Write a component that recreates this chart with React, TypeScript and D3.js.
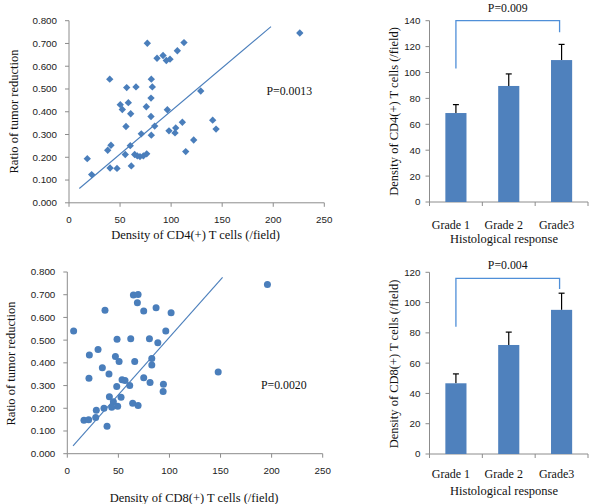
import React from "react";
import * as d3 from "d3";

// ---- Data ----
const cd4Density = [17.9, 22.2, 37.9, 41.1, 40.2, 47, 39.9, 56.5, 65.6, 50.2, 52.2, 58.1, 60.4, 55.8, 60, 55.1, 61, 64.3, 66.9, 69.5, 72.8, 76.1, 70.8, 76.7, 80.6, 81.6, 80.3, 75.7, 80.3, 83.9, 80.6, 86.2, 92.1, 95.3, 98.9, 106.1, 112.6, 96.3, 97.9, 104.5, 103.8, 111, 114.3, 122.1, 129, 140.7, 144, 226];
const cd4Ratio = [0.194, 0.124, 0.231, 0.253, 0.153, 0.151, 0.543, 0.506, 0.509, 0.431, 0.41, 0.44, 0.391, 0.335, 0.251, 0.212, 0.162, 0.212, 0.206, 0.203, 0.206, 0.215, 0.303, 0.701, 0.543, 0.509, 0.46, 0.422, 0.379, 0.337, 0.297, 0.635, 0.647, 0.625, 0.631, 0.668, 0.704, 0.409, 0.316, 0.329, 0.307, 0.354, 0.225, 0.276, 0.491, 0.363, 0.324, 0.746];

const cd8Density = [6.2, 36.9, 21.6, 30.1, 21.2, 34.3, 40.8, 47.1, 50.7, 48.7, 62.1, 66, 64.7, 69.3, 68.6, 74.8, 86.9, 101.6, 80.4, 88.6, 96.4, 82.7, 82.7, 74.8, 81, 94.1, 93.8, 53.6, 56.5, 61.1, 48.4, 41.2, 52.6, 45.1, 43.5, 49.3, 64, 69.3, 35.9, 28.4, 27.8, 16.3, 20.9, 38.9, 147.7, 195.9];
const cd8Ratio = [0.54, 0.632, 0.435, 0.459, 0.332, 0.378, 0.351, 0.428, 0.406, 0.504, 0.506, 0.406, 0.699, 0.701, 0.665, 0.628, 0.643, 0.621, 0.506, 0.488, 0.54, 0.419, 0.39, 0.334, 0.313, 0.306, 0.274, 0.326, 0.322, 0.3, 0.296, 0.251, 0.249, 0.229, 0.204, 0.209, 0.222, 0.212, 0.2, 0.191, 0.159, 0.147, 0.15, 0.121, 0.36, 0.745];

const cd4TrendX = [10.1, 197.8];
const cd4TrendY = [0.063, 0.774];
const cd8TrendX = [5.6, 152];
const cd8TrendY = [0.034, 0.776];

const scatterXTicks = [0, 50, 100, 150, 200, 250];
const scatterYTicks = [0, 0.1, 0.2, 0.3, 0.4, 0.5, 0.6, 0.7, 0.8];

const grades = ["Grade 1", "Grade 2", "Grade3"];
const cd4Means = [68.7, 89.6, 109.6];
const cd4ErrTop = [75.2, 98.9, 121.7];
const cd8Means = [46.7, 72, 95.2];
const cd8ErrTop = [52.9, 80.5, 106.2];
const cd4BarTicks = [0, 20, 40, 60, 80, 100, 120, 140];
const cd8BarTicks = [0, 20, 40, 60, 80, 100, 120];
const cd4Bracket = [140, 103, 131];
const cd8Bracket = [116, 84, 109];

const BLUE = "#4A7EBB";
const BAR = "#4F81BD";
const BRACKET = "#4F8FD8";
const AXIS = "#8C8C8C";
const SERIF = "'Liberation Serif', 'Times New Roman', serif";
const SANS = "'Liberation Sans', Arial, sans-serif";

type ScatterProps = {
  xs: number[]; ys: number[]; tx: number[]; ty: number[];
  x0: number; x1: number; y0: number; y1: number;
  diamond: boolean; xTitle: string; pText: string; pX: number; pY: number;
  yTitleX: number; yTitleY: number; xTitleY: number;
};

function Scatter(p: ScatterProps) {
  const x = d3.scaleLinear().domain([0, 250]).range([p.x0, p.x1]);
  const y = d3.scaleLinear().domain([0, 0.8]).range([p.y0, p.y1]);
  const sq = d3.symbol(d3.symbolSquare, 27)() as string;
  const line = d3.line<number>().x((d) => x(p.tx[d])).y((d) => y(p.ty[d]));
  return (
    <g>
      <line x1={p.x0} x2={p.x0} y1={p.y1} y2={p.y0} stroke={AXIS} />
      <line x1={p.x0} x2={p.x1} y1={p.y0} y2={p.y0} stroke={AXIS} />
      {scatterYTicks.map((t) => (
        <g key={"y" + t}>
          <line x1={p.x0 - 4} x2={p.x0} y1={y(t)} y2={y(t)} stroke={AXIS} />
          <text x={p.x0 - 12} y={y(t)} dy="0.35em" textAnchor="end" fontFamily={SANS} fontSize={9.8} fill="#222">
            {t.toFixed(3)}
          </text>
        </g>
      ))}
      {scatterXTicks.map((t) => (
        <g key={"x" + t}>
          <line x1={x(t)} x2={x(t)} y1={p.y0} y2={p.y0 + 4} stroke={AXIS} />
          <text x={x(t)} y={p.y0 + 17} dy="0.35em" textAnchor="middle" fontFamily={SANS} fontSize={9.8} fill="#222">
            {t}
          </text>
        </g>
      ))}
      <path d={line([0, 1]) as string} stroke={BLUE} strokeWidth={1.1} fill="none" />
      {p.xs.map((v, i) =>
        p.diamond ? (
          <path key={i} d={sq} transform={`translate(${x(v)},${y(p.ys[i])}) rotate(45)`} fill={BLUE} />
        ) : (
          <circle key={i} cx={x(v)} cy={y(p.ys[i])} r={3.5} fill={BLUE} />
        )
      )}
      <text x={p.pX} y={p.pY} dy="0.35em" fontFamily={SERIF} fontSize={11.8} fill="#111">{p.pText}</text>
      <text transform={`translate(${p.yTitleX},${p.yTitleY}) rotate(-90)`} textAnchor="middle" dominantBaseline="central" fontFamily={SERIF} fontSize={12.5} fill="#111">
        Ratio of tumor reduction
      </text>
      <text x={(p.x0 + p.x1) / 2 - 1} y={p.xTitleY} dy="0.35em" textAnchor="middle" fontFamily={SERIF} fontSize={12.5} fill="#111">
        {p.xTitle}
      </text>
    </g>
  );
}

type BarProps = {
  means: number[]; errTop: number[]; ticks: number[]; yMax: number;
  x0: number; x1: number; y0: number; y1: number; yTitle: string;
  bracket: number[]; pText: string; pY: number; yTitleY: number; gradeY: number; histY: number;
};

function Bars(p: BarProps) {
  const x = d3.scaleBand<string>().domain(grades).range([p.x0, p.x1]).paddingInner(0.6).paddingOuter(0.3);
  const y = d3.scaleLinear().domain([0, p.yMax]).range([p.y0, p.y1]);
  const bw = x.bandwidth();
  const c = (g: string) => (x(g) as number) + bw / 2;
  const bx1 = c(grades[0]);
  const bx2 = c(grades[2]) - 2;
  const bounds = [0, 1, 2, 3].map((i) => p.x0 + ((p.x1 - p.x0) / 3) * i);
  return (
    <g>
      <line x1={p.x0} x2={p.x0} y1={y(p.yMax)} y2={p.y0} stroke={AXIS} />
      <line x1={p.x0} x2={p.x1} y1={p.y0} y2={p.y0} stroke={AXIS} />
      {p.ticks.map((t) => (
        <g key={"y" + t}>
          <line x1={p.x0 - 4} x2={p.x0} y1={y(t)} y2={y(t)} stroke={AXIS} />
          <text x={p.x0 - 9} y={y(t)} dy="0.35em" textAnchor="end" fontFamily={SANS} fontSize={9.8} fill="#222">{t}</text>
        </g>
      ))}
      {bounds.map((b, i) => (
        <line key={"b" + i} x1={b} x2={b} y1={p.y0} y2={p.y0 + 4} stroke={AXIS} />
      ))}
      {grades.map((g, i) => (
        <g key={g}>
          <line x1={c(g)} x2={c(g)} y1={y(p.means[i])} y2={y(p.errTop[i])} stroke="#000" strokeWidth={1.2} />
          <line x1={c(g) - 3} x2={c(g) + 3} y1={y(p.errTop[i])} y2={y(p.errTop[i])} stroke="#000" strokeWidth={1.2} />
          <rect x={x(g)} y={y(p.means[i])} width={bw} height={p.y0 - y(p.means[i])} fill={BAR} />
          <text x={c(g) - 5} y={p.gradeY} dy="0.35em" textAnchor="middle" fontFamily={SERIF} fontSize={12} fill="#111">{g}</text>
        </g>
      ))}
      <path
        d={`M${bx1},${y(p.bracket[1])}V${y(p.bracket[0])}H${bx2}V${y(p.bracket[2])}`}
        stroke={BRACKET} strokeWidth={1.3} fill="none"
      />
      <text x={(bx1 + bx2) / 2} y={p.pY} dy="0.35em" textAnchor="middle" fontFamily={SERIF} fontSize={11.8} fill="#111">{p.pText}</text>
      <text transform={`translate(393.5,${p.yTitleY}) rotate(-90)`} textAnchor="middle" dominantBaseline="central" fontFamily={SERIF} fontSize={12.5} fill="#111">
        {p.yTitle}
      </text>
      <text x={504} y={p.histY} dy="0.35em" textAnchor="middle" fontFamily={SERIF} fontSize={12.5} fill="#111">Histological response</text>
    </g>
  );
}

export default function App() {
  return (
    <svg width={600} height={504} style={{ position: "absolute", left: 0, top: 0, background: "#fff" }}>
      <rect width={600} height={504} fill="#fff" />
      <Scatter xs={cd4Density} ys={cd4Ratio} tx={cd4TrendX} ty={cd4TrendY}
        x0={69} x1={324.3} y0={202.8} y1={20.7} diamond={true}
        xTitle="Density of CD4(+) T cells (/field)" pText="P=0.0013" pX={266.5} pY={91}
        yTitleX={14} yTitleY={111.5} xTitleY={234.5} />
      <Scatter xs={cd8Density} ys={cd8Ratio} tx={cd8TrendX} ty={cd8TrendY}
        x0={67.3} x1={322.7} y0={453.7} y1={272} diamond={false}
        xTitle="Density of CD8(+) T cells (/field)" pText="P=0.0020" pX={261} pY={385.3}
        yTitleX={10.5} yTitleY={363.5} xTitleY={497.5} />
      <Bars means={cd4Means} errTop={cd4ErrTop} ticks={cd4BarTicks} yMax={140}
        x0={429.5} x1={588} y0={202} y1={20.7} yTitle="Density of CD4(+) T cells (/field)"
        bracket={cd4Bracket} pText="P=0.009" pY={7.5} yTitleY={111.5} gradeY={225} histY={239} />
      <Bars means={cd8Means} errTop={cd8ErrTop} ticks={cd8BarTicks} yMax={120}
        x0={429.5} x1={588} y0={454} y1={272.3} yTitle="Density of CD8(+) T cells (/field)"
        bracket={cd8Bracket} pText="P=0.004" pY={265} yTitleY={364} gradeY={473.5} histY={490.5} />
    </svg>
  );
}
